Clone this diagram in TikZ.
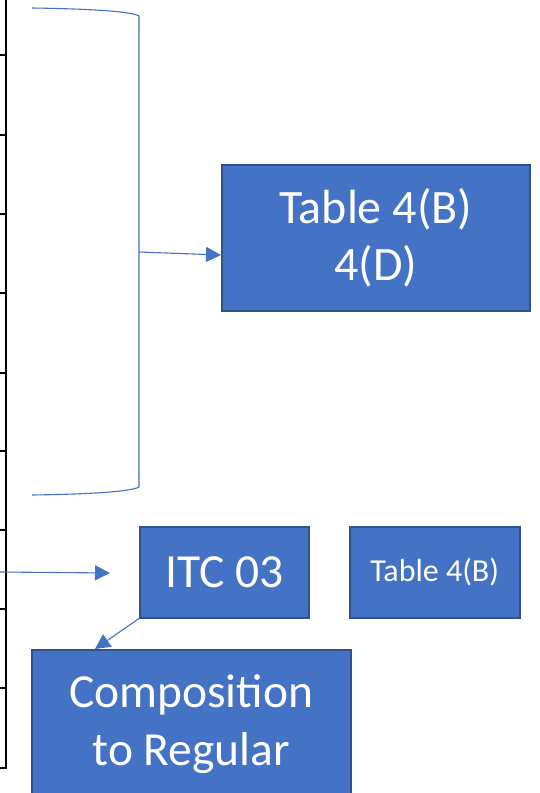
\documentclass[tikz,border=0pt]{standalone}
\usepackage{fontspec}
\setmainfont{Carlito}
\usetikzlibrary{arrows.meta}
\definecolor{boxfill}{HTML}{4472C4}
\definecolor{boxline}{HTML}{2F528F}
\tikzset{
  box/.style={draw=boxline, line width=1.5pt, fill=boxfill, text=white,
    inner sep=0pt, align=center, anchor=north west},
  link/.style={draw=boxfill, line width=1.1pt},
  arrowlink/.style={link, -{Triangle[length=15pt,width=15pt]}},
  grid/.style={draw=black, line width=2.8pt},
}
\begin{document}
\begin{tikzpicture}[x=1pt,y=-1pt]
\useasboundingbox (0,0) rectangle (539,793);
\clip (0,0) rectangle (539,793);

% table edge on the left
\draw[grid] (6,-2) -- (6,768);
\foreach \yy in {55,135,214,293,373,451,530,609,688,768}
  \draw[grid] (-2,\yy) -- (7.4,\yy);

% right brace grouping the upper rows
\coordinate (btop) at (32,8);
\coordinate (bbot) at (32,495);
\coordinate (bmid) at (139,252);
\draw[link] (btop) .. controls (100,9) and (132,12) .. (139,16)
  -- (139,487) .. controls (132,491) and (100,494) .. (bbot);

% boxes
\node[box, minimum width=308pt, minimum height=146pt,
  font=\fontsize{48}{57}\selectfont] (t4bd) at (221,164) {Table 4(B)\\4(D)};
\node[box, minimum width=169pt, minimum height=91pt,
  font=\fontsize{47.5}{57}\selectfont] (itc) at (139,526) {ITC 03};
\node[box, minimum width=170pt, minimum height=91pt,
  font=\fontsize{32}{38}\selectfont] (t4b) at (349,526) {Table 4(B)};
\node[box, minimum width=319pt, minimum height=148pt,
  font=\fontsize{47.5}{58}\selectfont] (comp) at (31,649) {Composition\\to Regular};

% connectors
\coordinate (rowin) at (0,572);
\coordinate (itcin) at (110,573);
\draw[arrowlink] (bmid) -- (t4bd.west |- 0,255);
\draw[arrowlink] (rowin) -- (itcin);
\draw[arrowlink] (itc.south west) -- (95,649);
\end{tikzpicture}
\end{document}
